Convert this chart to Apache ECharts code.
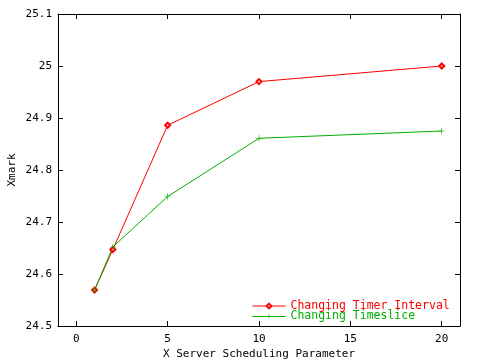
<!DOCTYPE html>
<html>
<head>
<meta charset="utf-8">
<script src="https://cdn.jsdelivr.net/npm/echarts@6/dist/echarts.min.js"></script>
<style>html,body{margin:0;padding:0;background:#fff}#c{width:480px;height:360px}</style>
</head>
<body>
<div id="c"></div>
<script>
var xValues = [1, 2, 5, 10, 20];
var timerInterval = [24.569, 24.647, 24.886, 24.970, 25.000];
var timeslice = [24.569, 24.652, 24.749, 24.861, 24.875];
var xTicks = [0, 5, 10, 15, 20];
var seriesNames = ['Changing Timer Interval', 'Changing Timeslice'];
var xTitle = 'X Server Scheduling Parameter';
var yTitle = 'Xmark';

var FONT = 'DejaVu Sans Mono';
var RED = '#ff0000', GREEN = '#00b000';
function pairs(xs, ys){ return xs.map(function(x,i){ return [x, ys[i]]; }); }
var plusPath = 'path://M4,0H5V4H9V5H5V9H4V5H0V4H4Z';

var chart = echarts.init(document.getElementById('c'), null, {renderer:'canvas'});
var axisLineStyle = {color:'#000', width:1};
chart.setOption({
  animation:false,
  backgroundColor:'#fff',
  grid:{left:58, right:20, top:14, bottom:34, containLabel:false, outerBoundsMode:'none'},
  xAxis:[{
    type:'value', min:-1, max:21, position:'bottom',
    axisLine:{show:true, onZero:false, lineStyle:axisLineStyle},
    axisTick:{show:true, inside:true, length:5, customValues:xTicks, lineStyle:axisLineStyle},
    axisLabel:{customValues:xTicks, color:'#000', fontFamily:FONT, fontSize:11, margin:8},
    splitLine:{show:false},
    name:xTitle, nameLocation:'middle', nameGap:23, nameMoveOverlap:false,
    nameTextStyle:{color:'#000', fontFamily:FONT, fontSize:11}
  },{
    type:'value', min:-1, max:21, position:'top',
    axisLine:{show:true, onZero:false, lineStyle:axisLineStyle},
    axisTick:{show:true, inside:true, length:5, customValues:xTicks, lineStyle:axisLineStyle},
    axisLabel:{show:false},
    splitLine:{show:false}
  }],
  yAxis:[{
    type:'value', min:24.5, max:25.1, interval:0.1, position:'left',
    axisLine:{show:true, onZero:false, lineStyle:axisLineStyle},
    axisTick:{show:true, inside:true, length:5, lineStyle:axisLineStyle},
    axisLabel:{color:'#000', fontFamily:FONT, fontSize:11, margin:6,
      formatter:function(v){ return String(parseFloat(v.toFixed(1))); }},
    splitLine:{show:false},
    name:yTitle, nameLocation:'middle', nameGap:40, nameRotate:90, nameMoveOverlap:false,
    nameTextStyle:{color:'#000', fontFamily:FONT, fontSize:11}
  },{
    type:'value', min:24.5, max:25.1, interval:0.1, position:'right',
    axisLine:{show:true, onZero:false, lineStyle:axisLineStyle},
    axisTick:{show:true, inside:true, length:5, lineStyle:axisLineStyle},
    axisLabel:{show:false},
    splitLine:{show:false}
  }],
  legend:[{
    data:[{name:seriesNames[0], textStyle:{color:RED}}],
    left:252, top:300, itemWidth:33, itemHeight:6, itemGap:0, padding:0,
    lineStyle:{width:1},
    textStyle:{fontFamily:FONT, fontSize:11.5}
  },{
    data:[{name:seriesNames[1], textStyle:{color:GREEN}}],
    left:252, top:310.5, itemWidth:33, itemHeight:6, itemGap:0, padding:0,
    lineStyle:{width:1},
    textStyle:{fontFamily:FONT, fontSize:11.5}
  }],
  series:[{
    name:seriesNames[0], type:'line', data:pairs(xValues, timerInterval),
    symbol:'emptyDiamond', symbolSize:5, showAllSymbol:true,
    lineStyle:{color:RED, width:1}, itemStyle:{color:RED, borderColor:RED, borderWidth:1},
    emphasis:{disabled:true}
  },{
    name:seriesNames[1], type:'line', data:pairs(xValues, timeslice),
    symbol:plusPath, symbolSize:6, showAllSymbol:true,
    lineStyle:{color:GREEN, width:1}, itemStyle:{color:GREEN},
    emphasis:{disabled:true}
  }]
});
</script>
</body>
</html>
